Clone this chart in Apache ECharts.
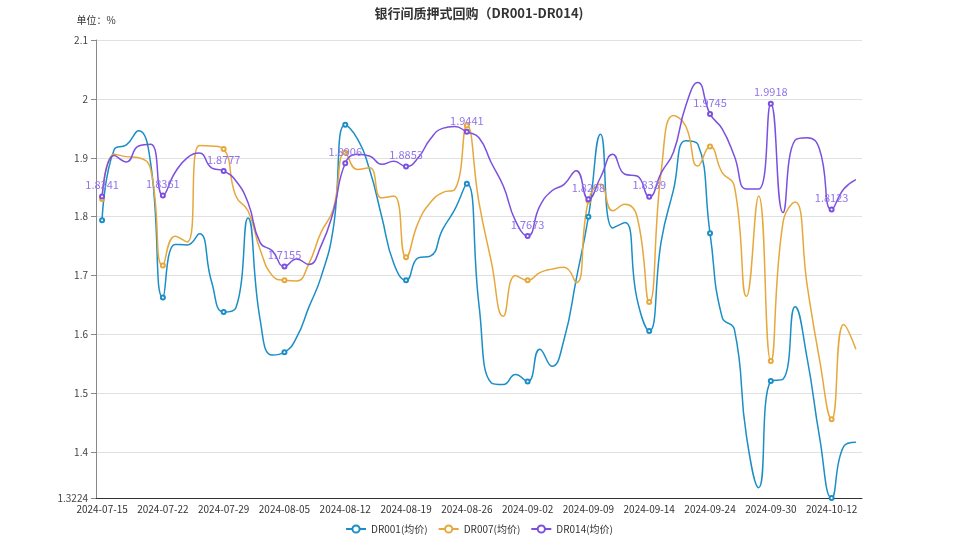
<!DOCTYPE html>
<html>
<head>
<meta charset="utf-8">
<script src="https://cdn.jsdelivr.net/npm/echarts@6/dist/echarts.min.js"></script>
<style>html,body{margin:0;padding:0;background:#fff}#c{width:958px;height:539px}</style>
</head>
<body>
<div id="c"></div>
<script>
var dates = ['2024-07-15','2024-07-16','2024-07-17','2024-07-18','2024-07-19',
'2024-07-22','2024-07-23','2024-07-24','2024-07-25','2024-07-26',
'2024-07-29','2024-07-30','2024-07-31','2024-08-01','2024-08-02',
'2024-08-05','2024-08-06','2024-08-07','2024-08-08','2024-08-09',
'2024-08-12','2024-08-13','2024-08-14','2024-08-15','2024-08-16',
'2024-08-19','2024-08-20','2024-08-21','2024-08-22','2024-08-23',
'2024-08-26','2024-08-27','2024-08-28','2024-08-29','2024-08-30',
'2024-09-02','2024-09-03','2024-09-04','2024-09-05','2024-09-06',
'2024-09-09','2024-09-10','2024-09-11','2024-09-12','2024-09-13',
'2024-09-14','2024-09-18','2024-09-19','2024-09-20','2024-09-23',
'2024-09-24','2024-09-25','2024-09-26','2024-09-27','2024-09-29',
'2024-09-30','2024-10-08','2024-10-09','2024-10-10','2024-10-11',
'2024-10-12','2024-10-14','2024-10-15'];

var dr001 = [1.794,1.914,1.922,1.946,1.89,
1.663,1.753,1.752,1.771,1.69,
1.638,1.645,1.798,1.625,1.565,
1.570,1.595,1.646,1.697,1.778,
1.956,1.932,1.88,1.80,1.72,
1.692,1.73,1.733,1.778,1.812,
1.856,1.65,1.518,1.515,1.532,
1.52,1.575,1.546,1.592,1.694,
1.80,1.94,1.781,1.79,1.66,
1.606,1.76,1.846,1.929,1.923,
1.772,1.629,1.609,1.427,1.34,
1.521,1.524,1.647,1.558,1.427,
1.3224,1.41,1.417];

var dr007 = [1.83,1.906,1.902,1.90,1.88,
1.717,1.767,1.757,1.921,1.92,
1.915,1.835,1.81,1.744,1.70,
1.692,1.691,1.72,1.773,1.812,
1.909,1.88,1.883,1.832,1.835,
1.731,1.79,1.824,1.841,1.846,
1.955,1.824,1.725,1.631,1.70,
1.692,1.705,1.711,1.714,1.688,
1.827,1.855,1.81,1.821,1.80,
1.655,1.88,1.972,1.954,1.886,
1.919,1.875,1.852,1.665,1.835,
1.555,1.79,1.825,1.682,1.558,
1.456,1.617,1.575];

var dr014 = [1.8341,1.904,1.893,1.92,1.923,
1.8361,1.875,1.90,1.908,1.883,
1.8777,1.861,1.824,1.756,1.742,
1.7155,1.728,1.719,1.75,1.807,
1.8906,1.906,1.903,1.889,1.894,
1.8853,1.90,1.932,1.95,1.953,
1.9441,1.934,1.892,1.852,1.793,
1.7673,1.818,1.844,1.855,1.878,
1.8298,1.867,1.906,1.872,1.869,
1.8339,1.875,1.91,1.988,2.028,
1.9745,1.949,1.903,1.847,1.847,
1.9918,1.807,1.93,1.934,1.915,
1.8123,1.847,1.863];

var seriesNames = ['DR001(均价)','DR007(均价)','DR014(均价)'];
var colors = ['#1b8ec6','#e6a83c','#7b4fe0'];

var chart = echarts.init(document.getElementById('c'));
var font = '"Noto Sans CJK SC","Noto Sans",sans-serif';
function lineSeries(i, extra) {
  var s = {name: seriesNames[i], type: 'line', smooth: true, symbol: 'emptyCircle', symbolSize: 4,
    showAllSymbol: false, lineStyle: {width: 1.5}, itemStyle: {borderWidth: 1}};
  for (var k in extra) s[k] = extra[k];
  return s;
}
chart.setOption({
  animation: false,
  color: colors,
  textStyle: {fontFamily: font},
  title: {
    text: '银行间质押式回购（DR001-DR014)',
    left: 'center', top: 2,
    textStyle: {fontSize: 13, fontWeight: 'bold', color: '#333', fontFamily: font}
  },
  legend: {
    bottom: 0, left: 'center',
    itemWidth: 20, itemHeight: 9, itemGap: 10,
    textStyle: {fontSize: 10, color: '#333'},
    data: seriesNames
  },
  grid: {left: 96, right: 96, top: 40, bottom: 41, containLabel: false},
  xAxis: {
    type: 'category',
    data: dates,
    boundaryGap: true,
    axisLine: {lineStyle: {color: '#333'}},
    axisTick: {interval: 4, lineStyle: {color: '#333'}},
    axisLabel: {interval: 4, fontSize: 10, color: '#333', margin: 6}
  },
  yAxis: {
    type: 'value',
    name: '单位：%',
    nameTextStyle: {fontSize: 10, color: '#333'},
    min: 1.3224, max: 2.1, splitNumber: 8,
    axisLine: {show: true, lineStyle: {color: '#888'}},
    axisTick: {show: true, lineStyle: {color: '#888'}},
    axisLabel: {fontSize: 10, color: '#444'},
    splitLine: {lineStyle: {color: '#e0e0e0'}}
  },
  series: [
    lineSeries(0, {data: dr001}),
    lineSeries(1, {data: dr007}),
    lineSeries(2, {data: dr014, label: {show: true, position: 'top', distance: 3, fontSize: 11, color: '#9274e8'}})
  ]
});
</script>
</body>
</html>
